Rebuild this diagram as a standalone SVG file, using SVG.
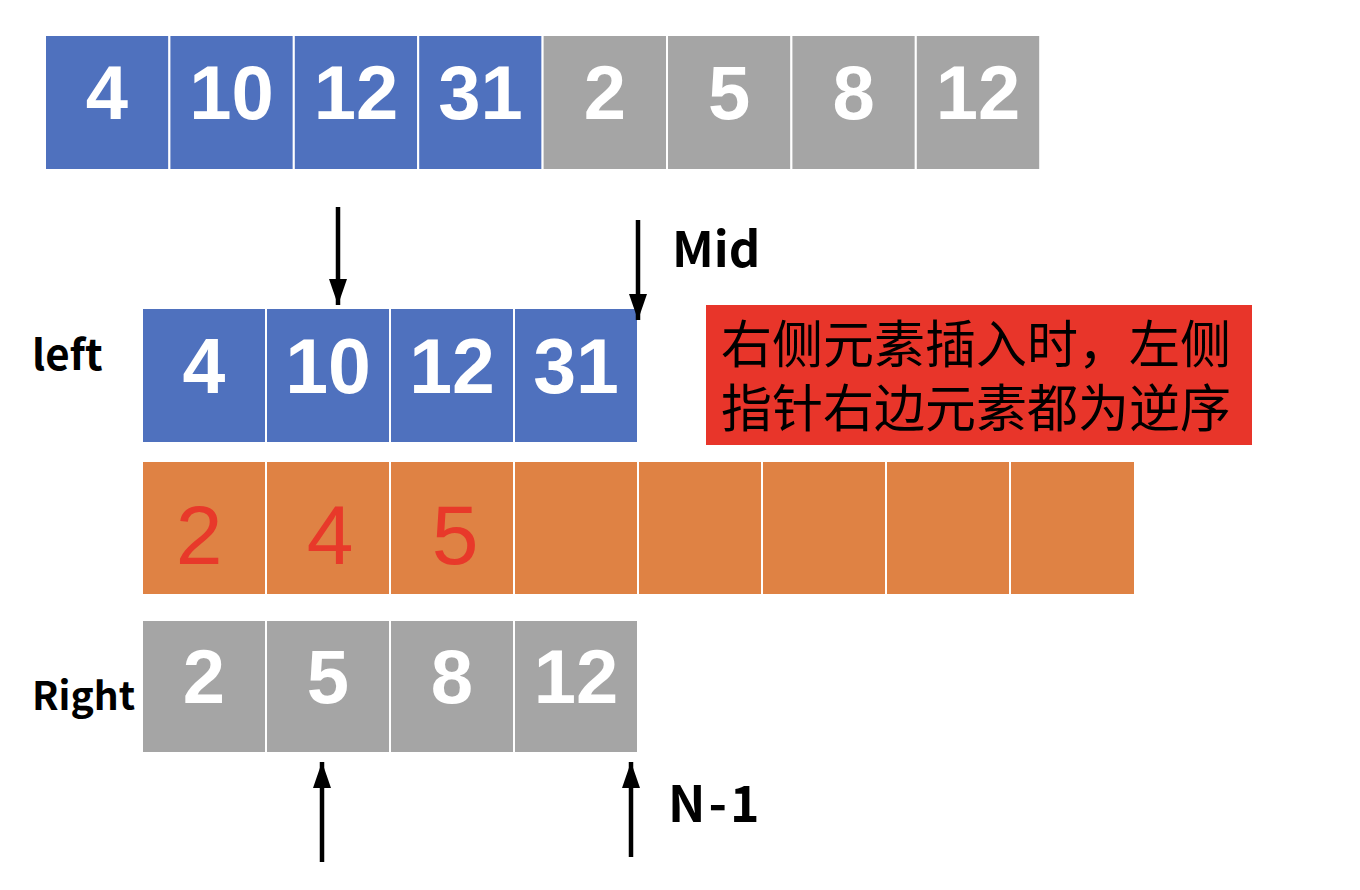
<svg xmlns="http://www.w3.org/2000/svg" width="1360" height="890" viewBox="0 0 1360 890">
<style>
.blue{fill:#4F71BE;stroke:#fff;stroke-width:2}
.gray{fill:#A5A5A5;stroke:#fff;stroke-width:2}
.orange{fill:#DF8244;stroke:#fff;stroke-width:2}
.num{font-family:"Liberation Sans",Arial,sans-serif;font-weight:bold;fill:#fff;text-anchor:middle}
.onum{font-family:"Liberation Sans",Arial,sans-serif;fill:#E8392A;text-anchor:middle;font-size:84px}
.lbl{font-family:"Noto Sans CJK SC","Liberation Sans",sans-serif;font-weight:bold;fill:#000}
.cjk{font-family:"Noto Sans CJK SC",sans-serif;fill:#000;font-size:51px}
.arr{stroke:#000;stroke-width:4.5}
</style>
<defs>
<marker id="ah" viewBox="0 0 26 18" refX="26" refY="9" markerWidth="26" markerHeight="18" markerUnits="userSpaceOnUse" orient="auto">
<path d="M0,0 L26,9 L0,18 Z" fill="#000"/>
</marker>
</defs>
<g id="top-row">
<rect class="blue" x="45" y="35" width="124.4" height="135"/>
<rect class="blue" x="169.4" y="35" width="124.4" height="135"/>
<rect class="blue" x="293.8" y="35" width="124.4" height="135"/>
<rect class="blue" x="418.2" y="35" width="124.4" height="135"/>
<rect class="gray" x="542.6" y="35" width="124.4" height="135"/>
<rect class="gray" x="667" y="35" width="124.4" height="135"/>
<rect class="gray" x="791.4" y="35" width="124.4" height="135"/>
<rect class="gray" x="915.8" y="35" width="124.4" height="135"/>
<g class="num" font-size="76">
<text x="107" y="119">4</text>
<text x="231.6" y="119">10</text>
<text x="356" y="119">12</text>
<text x="480.4" y="119">31</text>
<text x="604.8" y="119">2</text>
<text x="729.2" y="119">5</text>
<text x="853.6" y="119">8</text>
<text x="978" y="119">12</text>
</g>
</g>
<g id="left-label"><text class="lbl" x="32" y="370" font-size="42">left</text></g>
<g id="left-row">
<rect class="blue" x="142" y="308" width="124" height="135"/>
<rect class="blue" x="266" y="308" width="124" height="135"/>
<rect class="blue" x="390" y="308" width="124" height="135"/>
<rect class="blue" x="514" y="308" width="124" height="135"/>
<g class="num" font-size="77">
<text x="204" y="393">4</text>
<text x="328" y="393">10</text>
<text x="452" y="393">12</text>
<text x="576" y="393">31</text>
</g>
</g>
<g id="mid-label"><text class="lbl" x="672" y="267" font-size="49">Mid</text></g>
<g id="note">
<rect x="706" y="305" width="546" height="140" fill="#E8352A"/>
<text class="cjk" x="721" y="363">右侧元素插入时，左侧</text>
<text class="cjk" x="721" y="427">指针右边元素都为逆序</text>
</g>
<g id="merge-row">
<rect class="orange" x="142" y="461" width="124" height="134"/>
<rect class="orange" x="266" y="461" width="124" height="134"/>
<rect class="orange" x="390" y="461" width="124" height="134"/>
<rect class="orange" x="514" y="461" width="124" height="134"/>
<rect class="orange" x="638" y="461" width="124" height="134"/>
<rect class="orange" x="762" y="461" width="124" height="134"/>
<rect class="orange" x="886" y="461" width="124" height="134"/>
<rect class="orange" x="1010" y="461" width="125" height="134"/>
<text class="onum" x="199" y="564">2</text>
<text class="onum" x="330" y="564">4</text>
<text class="onum" x="455" y="564">5</text>
</g>
<g id="right-label"><text class="lbl" x="32" y="710" font-size="39">Right</text></g>
<g id="right-row">
<rect class="gray" x="142" y="620" width="124" height="133"/>
<rect class="gray" x="266" y="620" width="124" height="133"/>
<rect class="gray" x="390" y="620" width="124" height="133"/>
<rect class="gray" x="514" y="620" width="124" height="133"/>
<g class="num" font-size="76">
<text x="204" y="703">2</text>
<text x="328" y="703">5</text>
<text x="452" y="703">8</text>
<text x="576" y="703">12</text>
</g>
</g>
<g id="n1-label"><text class="lbl" x="668" y="822" font-size="50" letter-spacing="3">N-1</text></g>
<g id="connectors">
<line class="arr" x1="338" y1="207" x2="338" y2="305" marker-end="url(#ah)"/>
<line class="arr" x1="638" y1="220" x2="638" y2="320" marker-end="url(#ah)"/>
<line class="arr" x1="322" y1="862" x2="322" y2="762" marker-end="url(#ah)"/>
<line class="arr" x1="631" y1="857" x2="631" y2="762" marker-end="url(#ah)"/>
</g>
</svg>
